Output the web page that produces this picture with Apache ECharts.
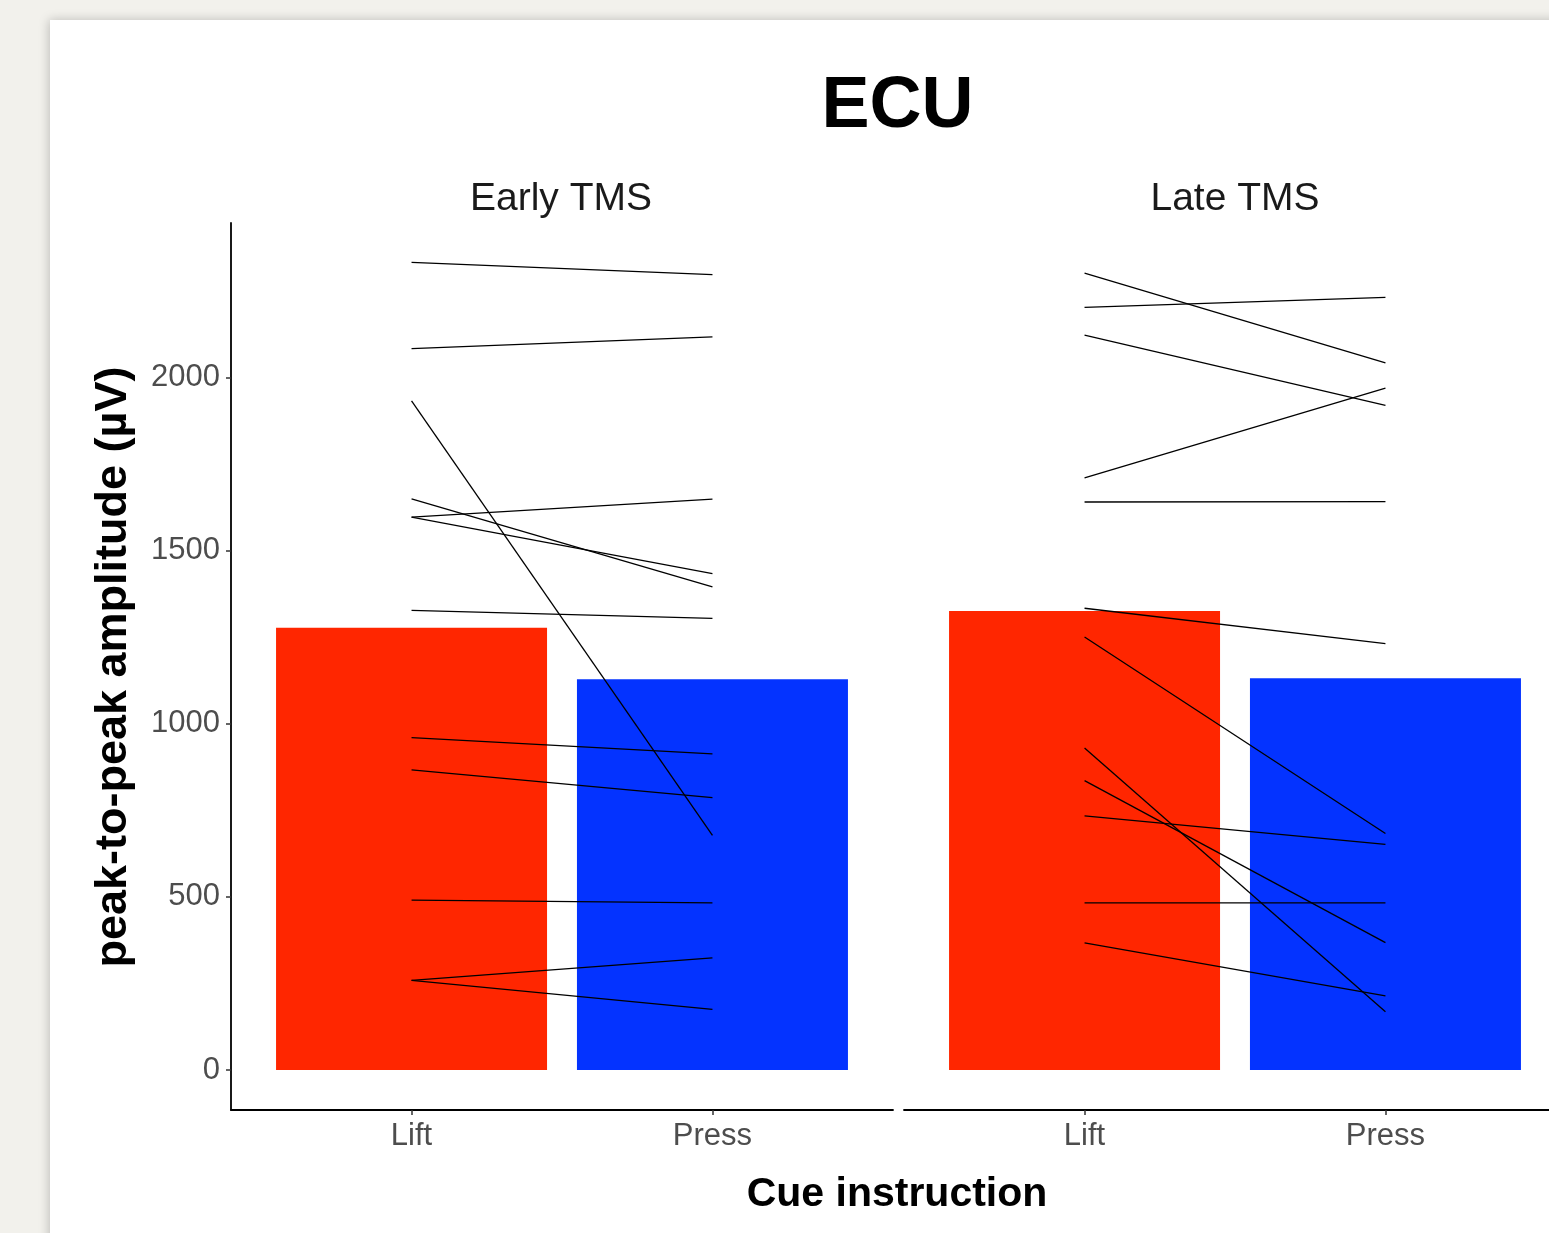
<!DOCTYPE html>
<html>
<head>
<meta charset="utf-8">
<script src="https://cdn.jsdelivr.net/npm/echarts@6/dist/echarts.min.js"></script>
<style>
html,body{margin:0;padding:0;background:#f2f1ec;}
#chart{width:1549px;height:1233px;}
</style>
</head>
<body>
<div id="chart"></div>
<script>
// ---- data ----
const conditions = ['Lift', 'Press'];
const panels = ['Early TMS', 'Late TMS'];
const earlyMeans = [1278, 1129];
const lateMeans = [1326, 1132];
const earlyLift  = [2333, 2084, 1933, 1650, 1597, 1597, 1328, 960, 867, 491, 259, 259];
const earlyPress = [2298, 2118,  678, 1396, 1649, 1434, 1305, 913, 787, 483, 324, 175];
const lateLift   = [2302, 2203, 2123, 1711, 1641, 1334, 1251, 930, 836, 734, 483, 367];
const latePress  = [2043, 2232, 1920, 1970, 1642, 1232,  683, 168, 368, 652, 483, 214];
const yTicks = [0, 500, 1000, 1500, 2000];
const xPos = [1, 2];

// ---- styles ----
const RED = '#ff2600';
const BLUE = '#0433ff';
const FONT = "'Liberation Sans', Arial, Helvetica, sans-serif";
const Y_MIN = -115.6, Y_MAX = 2447;

const chart = echarts.init(document.getElementById('chart'), null, {renderer: 'canvas'});

function xAxisDef(gi) {
  return {
    gridIndex: gi, type: 'value', min: 0.4, max: 2.6,
    axisLine: {show: true, onZero: false, lineStyle: {color: '#000', width: 1.8}},
    axisTick: {show: true, customValues: xPos, length: 5, lineStyle: {color: '#333', width: 1.5}},
    axisLabel: {
      customValues: xPos, fontSize: 31, color: '#4d4d4d', fontFamily: FONT, margin: 11,
      formatter: v => conditions[Math.round(v) - 1]
    },
    splitLine: {show: false}
  };
}
function yAxisDef(gi, show) {
  return {
    gridIndex: gi, type: 'value', min: Y_MIN, max: Y_MAX, show: show,
    axisLine: {show: true, onZero: false, lineStyle: {color: '#000', width: 1.8}},
    axisTick: {show: true, customValues: yTicks, length: 5, lineStyle: {color: '#333', width: 1.5}},
    axisLabel: {customValues: yTicks, fontSize: 31, color: '#4d4d4d', fontFamily: FONT, margin: 11,
      formatter: v => String(Math.round(v))},
    splitLine: {show: false}
  };
}

const series = [];
[[earlyMeans, 0], [lateMeans, 1]].forEach(([m, gi]) => {
  series.push({
    type: 'bar', xAxisIndex: gi, yAxisIndex: gi, barWidth: 271, z: 2,
    data: [
      {value: [xPos[0], m[0]], itemStyle: {color: RED}},
      {value: [xPos[1], m[1]], itemStyle: {color: BLUE}}
    ]
  });
});
[[earlyLift, earlyPress, 0], [lateLift, latePress, 1]].forEach(([a, b, gi]) => {
  a.forEach((v, i) => {
    series.push({
      type: 'line', xAxisIndex: gi, yAxisIndex: gi, z: 5, silent: true,
      symbol: 'none',
      lineStyle: {color: '#000', width: 1.3},
      data: [[xPos[0], v], [xPos[1], b[i]]]
    });
  });
});

chart.setOption({
  animation: false,
  backgroundColor: '#f2f1ec',
  grid: [
    {left: 231, top: 223, width: 662, height: 887, outerBoundsMode: 'none', containLabel: false},
    {left: 904, top: 223, width: 662, height: 887, outerBoundsMode: 'none', containLabel: false}
  ],
  xAxis: [xAxisDef(0), xAxisDef(1)],
  yAxis: [yAxisDef(0, true), yAxisDef(1, false)],
  series: series,
  graphic: [
    {type: 'rect', z: -10, silent: true,
     shape: {x: 50, y: 20, width: 1540, height: 1260},
     style: {fill: '#fff', shadowBlur: 10, shadowColor: 'rgba(0,0,0,0.22)', shadowOffsetX: -1}},
    {type: 'text', z: 100, x: 897.5, y: 107,
     style: {text: 'ECU', font: "bold 72px " + FONT, fill: '#000', align: 'center', verticalAlign: 'middle'}},
    {type: 'text', z: 100, x: 561, y: 199,
     style: {text: panels[0], font: "39px " + FONT, fill: '#1a1a1a', align: 'center', verticalAlign: 'middle'}},
    {type: 'text', z: 100, x: 1235, y: 199,
     style: {text: panels[1], font: "39px " + FONT, fill: '#1a1a1a', align: 'center', verticalAlign: 'middle'}},
    {type: 'text', z: 100, x: 897, y: 1195,
     style: {text: 'Cue instruction', font: "bold 41px " + FONT, fill: '#000', align: 'center', verticalAlign: 'middle'}},
    {type: 'text', z: 100, x: 114, y: 667, rotation: Math.PI / 2,
     style: {text: 'peak-to-peak amplitude (µV)', font: "bold 45px " + FONT, fill: '#000', align: 'center', verticalAlign: 'middle'}}
  ]
});
</script>
</body>
</html>
